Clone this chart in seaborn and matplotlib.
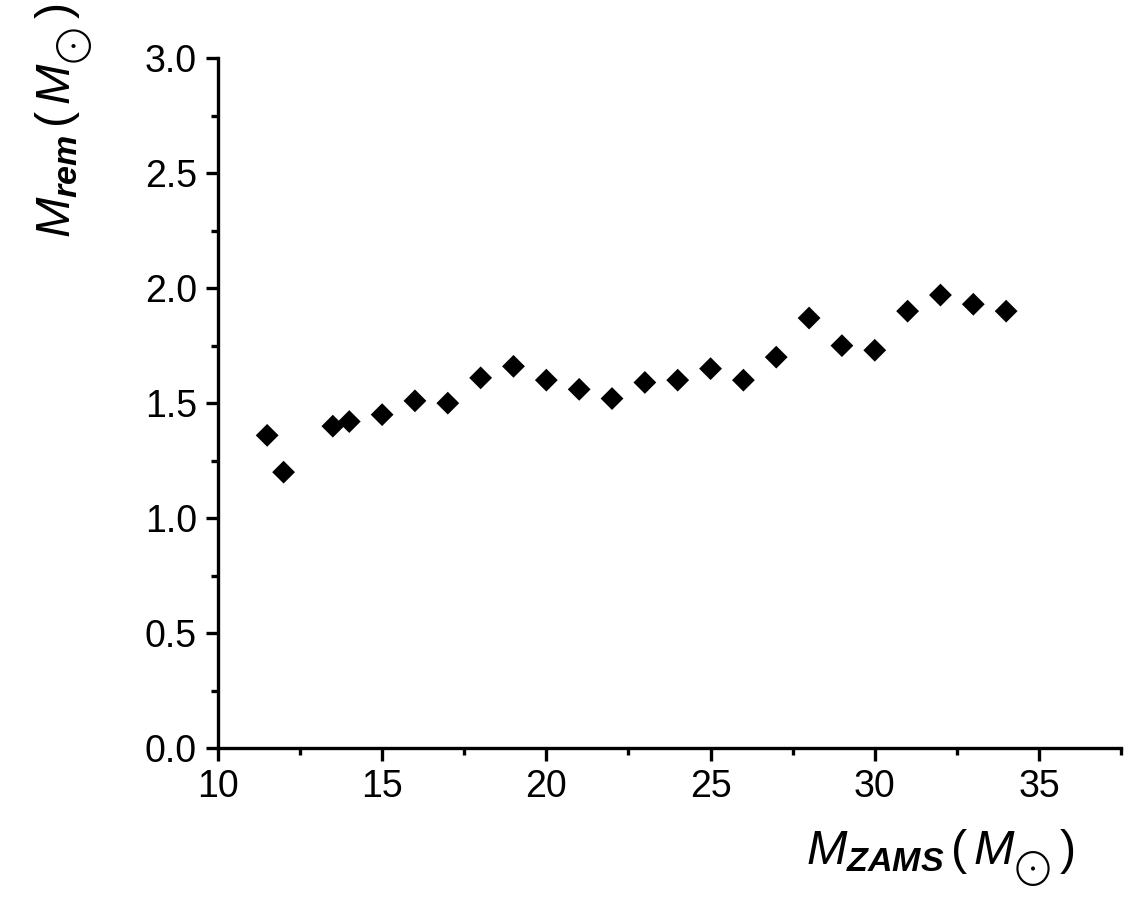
import numpy as np
import pandas as pd
import matplotlib
matplotlib.use("Agg")
import matplotlib.pyplot as plt
import seaborn as sns
from matplotlib.ticker import MultipleLocator

# progenitor mass vs remnant mass
m_zams = [11.5, 12, 13.5, 14, 15, 16, 17, 18, 19, 20, 21, 22,
          23, 24, 25, 26, 27, 28, 29, 30, 31, 32, 33, 34]
m_rem = [1.36, 1.20, 1.40, 1.42, 1.45, 1.51, 1.50, 1.61, 1.66, 1.60, 1.56, 1.52,
         1.59, 1.60, 1.65, 1.60, 1.70, 1.87, 1.75, 1.73, 1.90, 1.97, 1.93, 1.90]

df = pd.DataFrame({"m_zams": m_zams, "m_rem": m_rem})

sns.set_theme(style="ticks")
plt.rcParams["font.family"] = ["Liberation Sans", "DejaVu Sans"]
plt.rcParams["mathtext.fontset"] = "custom"
plt.rcParams["mathtext.rm"] = "Liberation Sans"
plt.rcParams["mathtext.it"] = "Liberation Sans:italic"
plt.rcParams["mathtext.bf"] = "Liberation Sans:bold"
plt.rcParams["mathtext.bfit"] = "Liberation Sans:bold:italic"

fig = plt.figure(figsize=(11.29, 9.08), dpi=100)
ax = fig.add_axes([0.193, 0.176, 0.800, 0.760])

sns.scatterplot(data=df, x="m_zams", y="m_rem", marker="D", s=135,
                color="black", edgecolor="none", ax=ax, legend=False)

ax.set_xlim(10, 37.5)
ax.set_ylim(0, 3.0)
ax.xaxis.set_major_locator(MultipleLocator(5))
ax.xaxis.set_minor_locator(MultipleLocator(2.5))
ax.yaxis.set_major_locator(MultipleLocator(0.5))
ax.yaxis.set_minor_locator(MultipleLocator(0.25))
ax.yaxis.set_major_formatter(plt.FormatStrFormatter("%.1f"))

for side in ["top", "right"]:
    ax.spines[side].set_visible(False)
for side in ["left", "bottom"]:
    ax.spines[side].set_linewidth(2.4)
    ax.spines[side].set_color("black")

ax.tick_params(which="major", direction="out", length=9, width=2.4,
               labelsize=27, colors="black", pad=6)
ax.tick_params(which="minor", direction="out", length=5, width=2.4, colors="black")

ax.set_xlabel(r"$M_{\mathbfit{ZAMS}}\,(\,M_{{}_{\bigodot}}\,)$", fontsize=35, color="black")
ax.xaxis.set_label_coords(0.80, -0.115)
ax.set_ylabel(r"$M_{\mathbfit{rem}}\,(\,M_{{}_{\bigodot}}\,)$", fontsize=35, color="black")
ax.yaxis.set_label_coords(-0.135, 0.91)

fig.savefig("out.png", dpi=100, facecolor="white")
